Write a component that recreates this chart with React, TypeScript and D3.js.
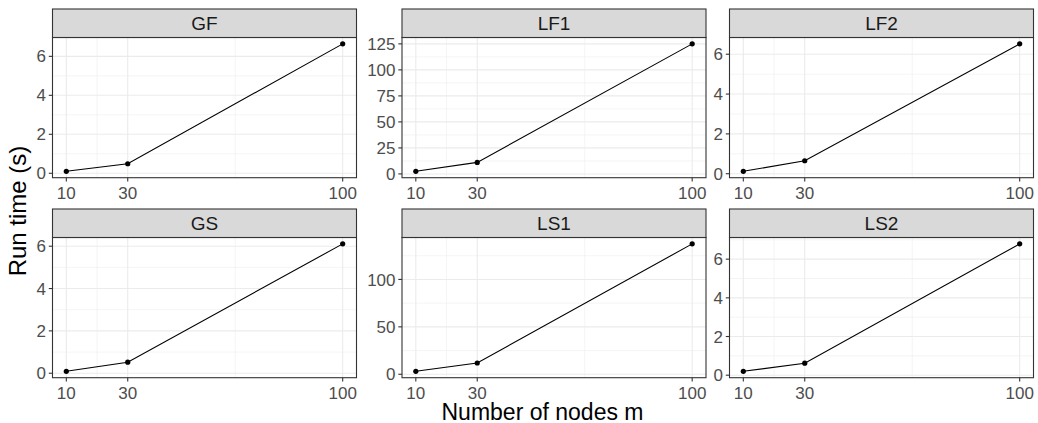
import * as d3 from "d3";

// facet panels, in reading order
const panelNames = ["GF", "LF1", "LF2", "GS", "LS1", "LS2"];
const nodes = [10, 30, 100];
const xTicks = [10, 30, 100];

// run time (s) per panel at m = 10, 30, 100
const gfTimes = [0.1, 0.49, 6.64];
const lf1Times = [2.5, 11.1, 125];
const lf2Times = [0.12, 0.65, 6.52];
const gsTimes = [0.09, 0.52, 6.11];
const ls1Times = [3.1, 11.9, 137.5];
const ls2Times = [0.2, 0.62, 6.79];
const seriesValues = [gfTimes, lf1Times, lf2Times, gsTimes, ls1Times, ls2Times];

const smallTicks = [0, 2, 4, 6];
const lf1Ticks = [0, 25, 50, 75, 100, 125];
const ls1Ticks = [0, 50, 100];
const yTickSets = [smallTicks, lf1Ticks, smallTicks, smallTicks, ls1Ticks, smallTicks];

const W = 1038;
const H = 423;
const colLeft = [52.5, 402, 729.5];
const panelW = 304;
const rowTop = [9, 209];
const stripH = 28.5;
const plotH = 140.2;
const font = "'Liberation Sans', Arial, sans-serif";

// ggplot-style 5% expansion of the data range
function expand(lo: number, hi: number): [number, number] {
  const pad = (hi - lo) * 0.05;
  return [lo - pad, hi + pad];
}

function Panel({ i }: { i: number }) {
  const values = seriesValues[i];
  const ticks = yTickSets[i];
  const left = colLeft[i % 3];
  const top = rowTop[Math.floor(i / 3)] + stripH;
  const bottom = top + plotH;

  const x = d3
    .scaleLinear()
    .domain(expand(d3.min(nodes)!, d3.max(nodes)!))
    .range([left, left + panelW]);
  const [y0, y1] = expand(d3.min(values)!, d3.max(values)!);
  const y = d3.scaleLinear().domain([y0, y1]).range([bottom, top]);

  // minor breaks sit halfway between majors
  const step = ticks[1] - ticks[0];
  const yMinor = d3
    .range(ticks[0] - step / 2, ticks[ticks.length - 1] + step, step)
    .filter((v) => v >= y0 && v <= y1);
  const xMinor = [20, 65];

  const line = d3
    .line<number>()
    .x((_, k) => x(nodes[k]))
    .y((d) => y(d));

  return (
    <g>
      <rect x={left} y={top} width={panelW} height={plotH} fill="#FFFFFF" />
      {yMinor.map((v) => (
        <line key={"ym" + v} x1={left} x2={left + panelW} y1={y(v)} y2={y(v)} stroke="#EBEBEB" strokeWidth={0.55} />
      ))}
      {xMinor.map((v) => (
        <line key={"xm" + v} x1={x(v)} x2={x(v)} y1={top} y2={bottom} stroke="#EBEBEB" strokeWidth={0.55} />
      ))}
      {ticks.map((v) => (
        <line key={"yM" + v} x1={left} x2={left + panelW} y1={y(v)} y2={y(v)} stroke="#EBEBEB" strokeWidth={1.1} />
      ))}
      {xTicks.map((v) => (
        <line key={"xM" + v} x1={x(v)} x2={x(v)} y1={top} y2={bottom} stroke="#EBEBEB" strokeWidth={1.1} />
      ))}
      <path d={line(values) ?? ""} fill="none" stroke="#000000" strokeWidth={1.1} />
      {values.map((v, k) => (
        <circle key={k} cx={x(nodes[k])} cy={y(v)} r={2.6} fill="#000000" />
      ))}
      <rect x={left} y={top} width={panelW} height={plotH} fill="none" stroke="#333333" strokeWidth={1.1} />

      {/* strip */}
      <rect x={left} y={top - stripH} width={panelW} height={stripH} fill="#D9D9D9" stroke="#333333" strokeWidth={1.1} />
      <text x={left + panelW / 2} y={top - stripH / 2} dy="0.36em" textAnchor="middle" fontSize={19} fill="#1A1A1A" fontFamily={font}>
        {panelNames[i]}
      </text>

      {/* y axis */}
      {ticks.map((v) => (
        <g key={"yt" + v}>
          <line x1={left - 3.7} x2={left} y1={y(v)} y2={y(v)} stroke="#333333" strokeWidth={1.1} />
          <text x={left - 6.5} y={y(v)} dy="0.36em" textAnchor="end" fontSize={17} fill="#4D4D4D" fontFamily={font}>
            {v}
          </text>
        </g>
      ))}

      {/* x axis */}
      {xTicks.map((v) => (
        <g key={"xt" + v}>
          <line x1={x(v)} x2={x(v)} y1={bottom} y2={bottom + 3.7} stroke="#333333" strokeWidth={1.1} />
          <text x={x(v)} y={bottom + 21.5} textAnchor="middle" fontSize={17} fill="#4D4D4D" fontFamily={font}>
            {v}
          </text>
        </g>
      ))}
    </g>
  );
}

export default function App() {
  return (
    <svg
      width={W}
      height={H}
      style={{ position: "absolute", left: 0, top: 0, background: "#FFFFFF" }}
    >
      <rect width={W} height={H} fill="#FFFFFF" />
      {panelNames.map((_, i) => (
        <Panel key={i} i={i} />
      ))}
      <text x={542.5} y={420} textAnchor="middle" fontSize={23} fill="#000000" fontFamily={font}>
        Number of nodes m
      </text>
      <text
        transform="translate(25.5,211) rotate(-90)"
        textAnchor="middle"
        fontSize={24}
        fill="#000000"
        fontFamily={font}
      >
        Run time (s)
      </text>
    </svg>
  );
}
